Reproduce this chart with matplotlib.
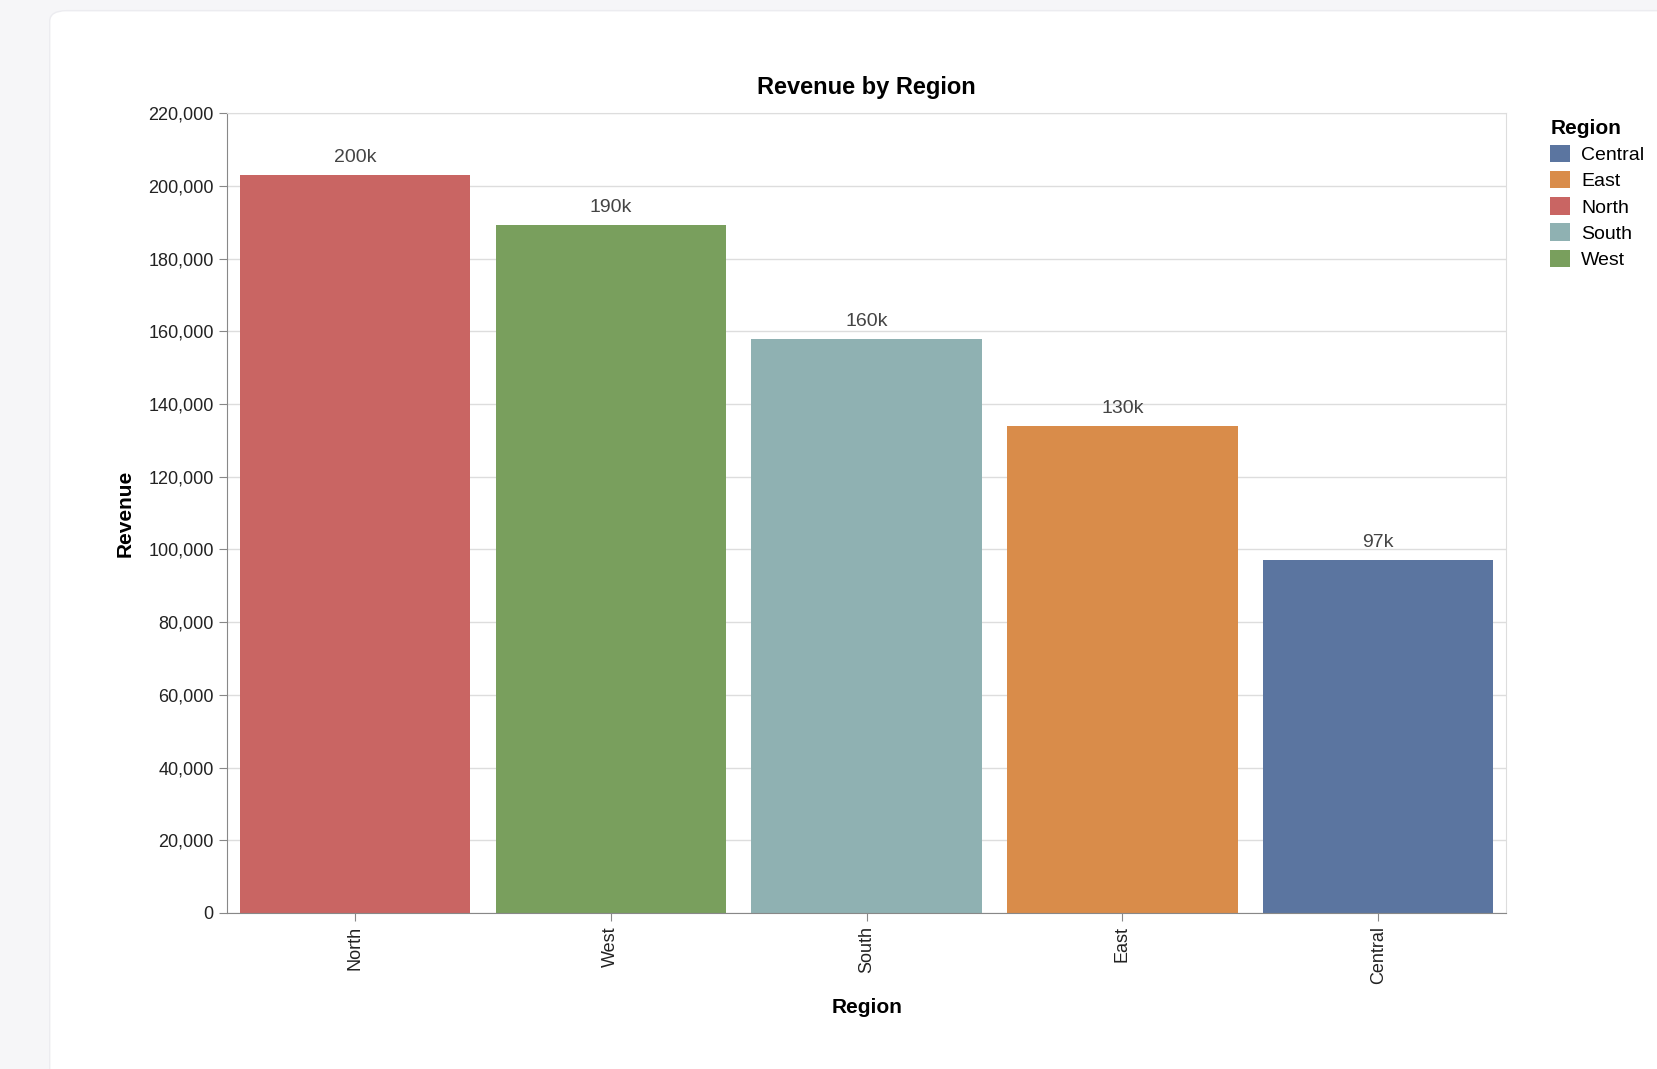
import matplotlib
matplotlib.use("Agg")
import matplotlib.pyplot as plt
from matplotlib.patches import FancyBboxPatch, Patch

regions = ["North", "West", "South", "East", "Central"]
revenue = [203000, 189200, 157800, 134000, 97100]
labels = ["200k", "190k", "160k", "130k", "97k"]
colors = {"Central": "#5b75a0", "East": "#d98c4a", "North": "#c96563", "South": "#8fb1b2", "West": "#799f5d"}
legend_order = ["Central", "East", "North", "South", "West"]

plt.rcParams['font.family'] = ['Liberation Sans', 'DejaVu Sans']
fig = plt.figure(figsize=(16.57, 10.69), dpi=100)
fig.patch.set_facecolor("#f6f6f8")
card = FancyBboxPatch((0.03, -0.05), 1.0, 1.04, boxstyle="round,pad=0,rounding_size=0.01",
                      transform=fig.transFigure, facecolor="white", edgecolor="#ececf0", zorder=-10)
fig.add_artist(card)

ax = fig.add_axes([0.137, 0.146, 0.772, 0.748])
ax.set_facecolor("white")
x = range(len(regions))
ax.bar(x, revenue, width=0.9, color=[colors[r] for r in regions], zorder=2)
for i, (v, l) in enumerate(zip(revenue, labels)):
    ax.text(i, v + 2500, l, ha="center", va="bottom", fontsize=14, color="#444444")
ax.set_xlim(-0.5, 4.5)
ax.set_ylim(0, 220000)
ax.set_yticks(range(0, 220001, 20000))
ax.set_yticklabels([f"{v:,}" for v in range(0, 220001, 20000)], fontsize=13)
ax.set_xticks(list(x))
ax.set_xticklabels(regions, rotation=90, fontsize=13)
ax.grid(axis="y", color="#dddddd", linewidth=1, zorder=0)
for s in ["top", "right"]:
    ax.spines[s].set_color("#dddddd")
for s in ["left", "bottom"]:
    ax.spines[s].set_color("#888888")
ax.tick_params(colors="#888888", labelcolor="#222222", length=6)
ax.set_xlabel("Region", fontsize=15, fontweight="bold", labelpad=10)
ax.set_ylabel("Revenue", fontsize=15, fontweight="bold", labelpad=10)
ax.set_title("Revenue by Region", fontsize=17, fontweight="bold", pad=14)

handles = [Patch(facecolor=colors[r], label=r) for r in legend_order]
leg = fig.legend(handles=handles, title="Region", loc="upper left", bbox_to_anchor=(0.925, 0.905),
                 frameon=False, fontsize=14, title_fontproperties={"weight": "bold", "size": 15},
                 handlelength=1.0, handleheight=1.0, labelspacing=0.35, handletextpad=0.6)
leg._legend_box.align = "left"
fig.savefig("out.png", dpi=100)
